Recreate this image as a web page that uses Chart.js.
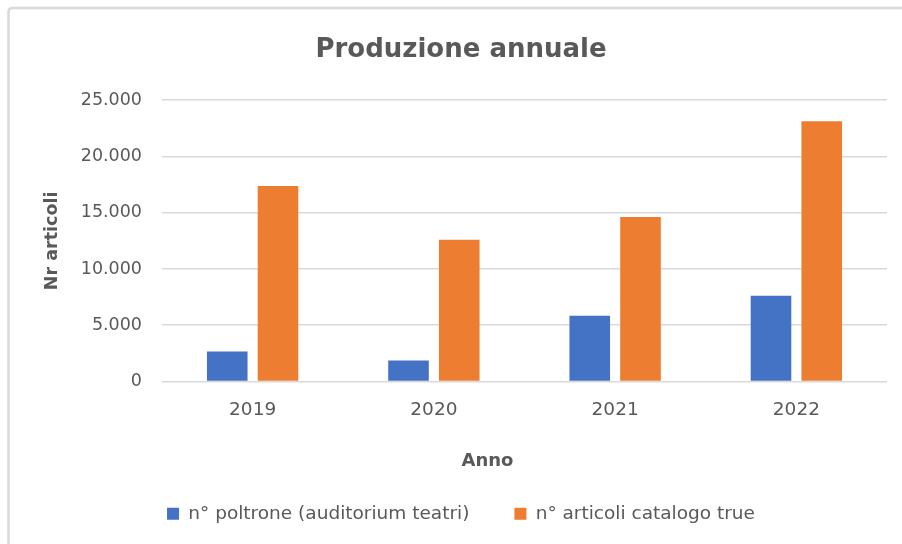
<!DOCTYPE html>
<html>
<head>
<meta charset="utf-8">
<script src="https://cdn.jsdelivr.net/npm/chart.js@4"></script>
<style>
  html, body { margin: 0; padding: 0; background: #fff; }
  canvas { display: block; }
</style>
</head>
<body>
<canvas id="canvas" width="902" height="544"></canvas>
<script>
// values
const anni = ['2019', '2020', '2021', '2022'];
const poltrone = [2660, 1860, 5850, 7620];
const articoliCatalogo = [17380, 12590, 14630, 23140];
const serieNomi = ['n° poltrone (auditorium teatri)', 'n° articoli catalogo true'];

const grigio = '#595959';
const fontFam = "'DejaVu Sans', sans-serif";

// puntini delle migliaia all'italiana
const fmt = v => String(v).replace(/\B(?=(\d{3})+(?!\d))/g, '.');

// bordo grigio del riquadro e titolo asse x
const cornice = {
  id: 'cornice',
  beforeDraw(chart) {
    const ctx = chart.ctx;
    ctx.save();
    ctx.fillStyle = '#fff';
    ctx.fillRect(0, 0, chart.width, chart.height);
    ctx.strokeStyle = '#d9d9d9';
    ctx.lineWidth = 2.5;
    ctx.beginPath();
    ctx.moveTo(8.5, chart.height);
    ctx.lineTo(8.5, 12);
    ctx.quadraticCurveTo(8.5, 8, 12.5, 8);
    ctx.lineTo(chart.width, 8);
    ctx.stroke();
    ctx.restore();
  },
  afterDraw(chart) {
    const ctx = chart.ctx;
    const a = chart.chartArea;
    ctx.save();
    ctx.font = 'bold 18px ' + fontFam;
    ctx.fillStyle = grigio;
    ctx.textAlign = 'center';
    ctx.textBaseline = 'middle';
    ctx.fillText('Anno', a.left + a.width * 0.449, a.bottom + 80);
    ctx.restore();
  }
};

new Chart(document.getElementById('canvas').getContext('2d'), {
  type: 'bar',
  data: {
    labels: anni,
    datasets: [{
      label: serieNomi[0],
      data: poltrone,
      backgroundColor: '#4472c4'
    }, {
      label: serieNomi[1],
      data: articoliCatalogo,
      backgroundColor: '#ed7d31'
    }]
  },
  options: {
    responsive: false,
    animation: false,
    datasets: {
      bar: { categoryPercentage: 0.56, barPercentage: 0.8 }
    },
    layout: { padding: { left: 35, right: 15, top: 0, bottom: 11 } },
    plugins: {
      title: {
        display: true,
        text: 'Produzione annuale',
        color: grigio,
        font: { family: fontFam, size: 26, weight: 'bold' },
        padding: { top: 35, bottom: 34 }
      },
      legend: {
        position: 'bottom',
        maxHeight: 84,
        labels: {
          boxWidth: 12,
          boxHeight: 12,
          padding: 45,
          color: grigio,
          font: { family: fontFam, size: 18.5 }
        }
      },
      tooltip: { enabled: false }
    },
    scales: {
      x: {
        grid: { display: false, drawTicks: false },
        border: { display: false },
        ticks: { color: grigio, font: { family: fontFam, size: 18.5 }, padding: 18 },
        afterFit(scale) { scale.height = 78; }
      },
      y: {
        min: 0,
        max: 25000,
        ticks: {
          stepSize: 5000,
          color: grigio,
          font: { family: fontFam, size: 17.5 },
          padding: 20,
          callback: v => fmt(v)
        },
        grid: { color: '#d9d9d9', lineWidth: 1.5, drawTicks: false },
        border: { display: false },
        title: {
          display: true,
          text: 'Nr articoli',
          color: grigio,
          font: { family: fontFam, size: 17.5, weight: 'bold' },
          padding: { top: 7, bottom: 0 }
        },
        afterFit(scale) { scale.width = 127; }
      }
    }
  },
  plugins: [cornice]
});
</script>
</body>
</html>
